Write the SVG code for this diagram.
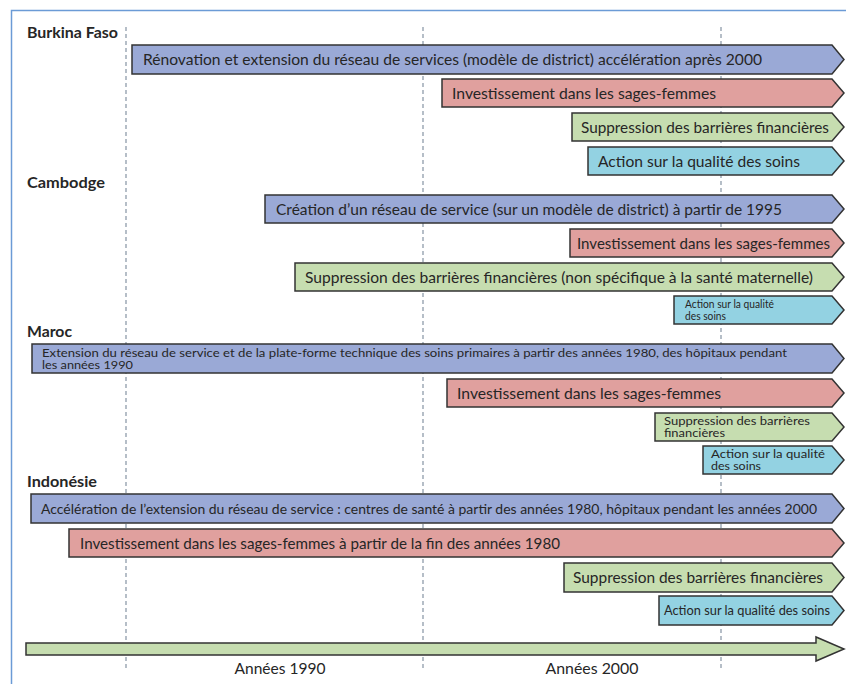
<svg xmlns="http://www.w3.org/2000/svg" width="846" height="684" viewBox="0 0 846 684">
<style>
.frame{fill:none;stroke:#6b9bd6;stroke-width:1.5}
.grid{stroke:#8593a3;stroke-width:1.2;stroke-dasharray:4 3}
.bar{stroke:#333;stroke-width:1.5;stroke-linejoin:miter}
.blue{fill:#9aa9d6}
.pink{fill:#e0a09e}
.green{fill:#c6ddb0}
.cyan{fill:#93d2e2}
.t{font-family:Lato,"Noto Sans","Liberation Sans",sans-serif;font-size:15px;fill:#262626}
.s{font-family:Lato,"Noto Sans","Liberation Sans",sans-serif;font-size:11.5px;fill:#262626}
.h{font-family:Lato,"Noto Sans","Liberation Sans",sans-serif;font-size:15px;font-weight:bold;fill:#262626}
</style>
<rect width="846" height="684" fill="#fff"/>
<path class="frame" d="M846,10.5 H11.5 V684"/>
<g id="gridlines">
<line class="grid" x1="126" y1="27" x2="126" y2="668"/>
<line class="grid" x1="423" y1="27" x2="423" y2="668"/>
<line class="grid" x1="721" y1="27" x2="721" y2="668"/>
</g>
<g id="labels">
<text class="h" x="27" y="38" textLength="91" lengthAdjust="spacingAndGlyphs">Burkina Faso</text>
<text class="h" x="27" y="188" textLength="78" lengthAdjust="spacingAndGlyphs">Cambodge</text>
<text class="h" x="27" y="337" textLength="45" lengthAdjust="spacingAndGlyphs">Maroc</text>
<text class="h" x="27" y="487" textLength="70" lengthAdjust="spacingAndGlyphs">Indonésie</text>
</g>
<g id="bf1"><polygon class="bar blue" points="132,45 832,45 844,59.5 832,74 132,74"/><text class="t" x="143" y="65" textLength="619" lengthAdjust="spacingAndGlyphs">Rénovation et extension du réseau de services (modèle de district) accélération après 2000</text></g>
<g id="bf2"><polygon class="bar pink" points="442,79 832,79 844,93 832,107 442,107"/><text class="t" x="452" y="98.5" textLength="264" lengthAdjust="spacingAndGlyphs">Investissement dans les sages-femmes</text></g>
<g id="bf3"><polygon class="bar green" points="572,113 832,113 844,127 832,141 572,141"/><text class="t" x="581" y="132.5" textLength="248" lengthAdjust="spacingAndGlyphs">Suppression des barrières financières</text></g>
<g id="bf4"><polygon class="bar cyan" points="588,147 832,147 844,161 832,175 588,175"/><text class="t" x="598" y="166.5" textLength="202" lengthAdjust="spacingAndGlyphs">Action sur la qualité des soins</text></g>
<g id="kh1"><polygon class="bar blue" points="265,195 832,195 844,209 832,223 265,223"/><text class="t" x="276" y="214.5" textLength="506" lengthAdjust="spacingAndGlyphs">Création d’un réseau de service (sur un modèle de district) à partir de 1995</text></g>
<g id="kh2"><polygon class="bar pink" points="570,229 832,229 844,243 832,257 570,257"/><text class="t" x="577" y="248.5" textLength="253" lengthAdjust="spacingAndGlyphs">Investissement dans les sages-femmes</text></g>
<g id="kh3"><polygon class="bar green" points="295,263 832,263 844,277 832,291 295,291"/><text class="t" x="305" y="282.5" textLength="508" lengthAdjust="spacingAndGlyphs">Suppression des barrières financières (non spécifique à la santé maternelle)</text></g>
<g id="kh4"><polygon class="bar cyan" points="674,296 832,296 844,310 832,324 674,324"/><text class="s" x="685" y="307.5" textLength="89" lengthAdjust="spacingAndGlyphs">Action sur la qualité</text><text class="s" x="685" y="320" textLength="41" lengthAdjust="spacingAndGlyphs">des soins</text></g>
<g id="ma1"><polygon class="bar blue" points="32,344 832,344 844,358.5 832,373 32,373"/><text class="s" x="42" y="356.5" textLength="745" lengthAdjust="spacingAndGlyphs">Extension du réseau de service et de la plate-forme technique des soins primaires à partir des années 1980, des hôpitaux pendant</text><text class="s" x="42" y="369" textLength="91" lengthAdjust="spacingAndGlyphs">les années 1990</text></g>
<g id="ma2"><polygon class="bar pink" points="447,379 832,379 844,393 832,407 447,407"/><text class="t" x="457" y="398.5" textLength="264" lengthAdjust="spacingAndGlyphs">Investissement dans les sages-femmes</text></g>
<g id="ma3"><polygon class="bar green" points="655,413 832,413 844,427 832,441 655,441"/><text class="s" x="664" y="424.5" textLength="146" lengthAdjust="spacingAndGlyphs">Suppression des barrières</text><text class="s" x="664" y="437" textLength="61" lengthAdjust="spacingAndGlyphs">financières</text></g>
<g id="ma4"><polygon class="bar cyan" points="703,446 832,446 844,460 832,474 703,474"/><text class="s" x="711" y="457.5" textLength="114" lengthAdjust="spacingAndGlyphs">Action sur la qualité</text><text class="s" x="711" y="470" textLength="50" lengthAdjust="spacingAndGlyphs">des soins</text></g>
<g id="id1"><polygon class="bar blue" points="31,494 832,494 844,508.5 832,523 31,523"/><text class="t" x="41" y="513.5" textLength="776" lengthAdjust="spacingAndGlyphs" style="font-size:14px">Accélération de l’extension du réseau de service : centres de santé à partir des années 1980, hôpitaux pendant les années 2000</text></g>
<g id="id2"><polygon class="bar pink" points="69,529 832,529 844,543 832,557 69,557"/><text class="t" x="80" y="548.5" textLength="480" lengthAdjust="spacingAndGlyphs">Investissement dans les sages-femmes à partir de la fin des années 1980</text></g>
<g id="id3"><polygon class="bar green" points="564,563 832,563 844,577.5 832,592 564,592"/><text class="t" x="573" y="582.5" textLength="250" lengthAdjust="spacingAndGlyphs">Suppression des barrières financières</text></g>
<g id="id4"><polygon class="bar cyan" points="659,596 832,596 844,610.5 832,625 659,625"/><text class="s" x="664" y="615" textLength="166" lengthAdjust="spacingAndGlyphs" style="font-size:12.5px">Action sur la qualité des soins</text></g>
<g id="connectors">
<polygon id="axis" class="bar green" points="26,643 816,643 816,637 844,649 816,661 816,655 26,655"/>
</g>
<g id="axis-labels">
<text class="t" x="280" y="674" text-anchor="middle" textLength="91" lengthAdjust="spacingAndGlyphs">Années 1990</text>
<text class="t" x="592" y="674" text-anchor="middle" textLength="93" lengthAdjust="spacingAndGlyphs">Années 2000</text>
</g>
</svg>
